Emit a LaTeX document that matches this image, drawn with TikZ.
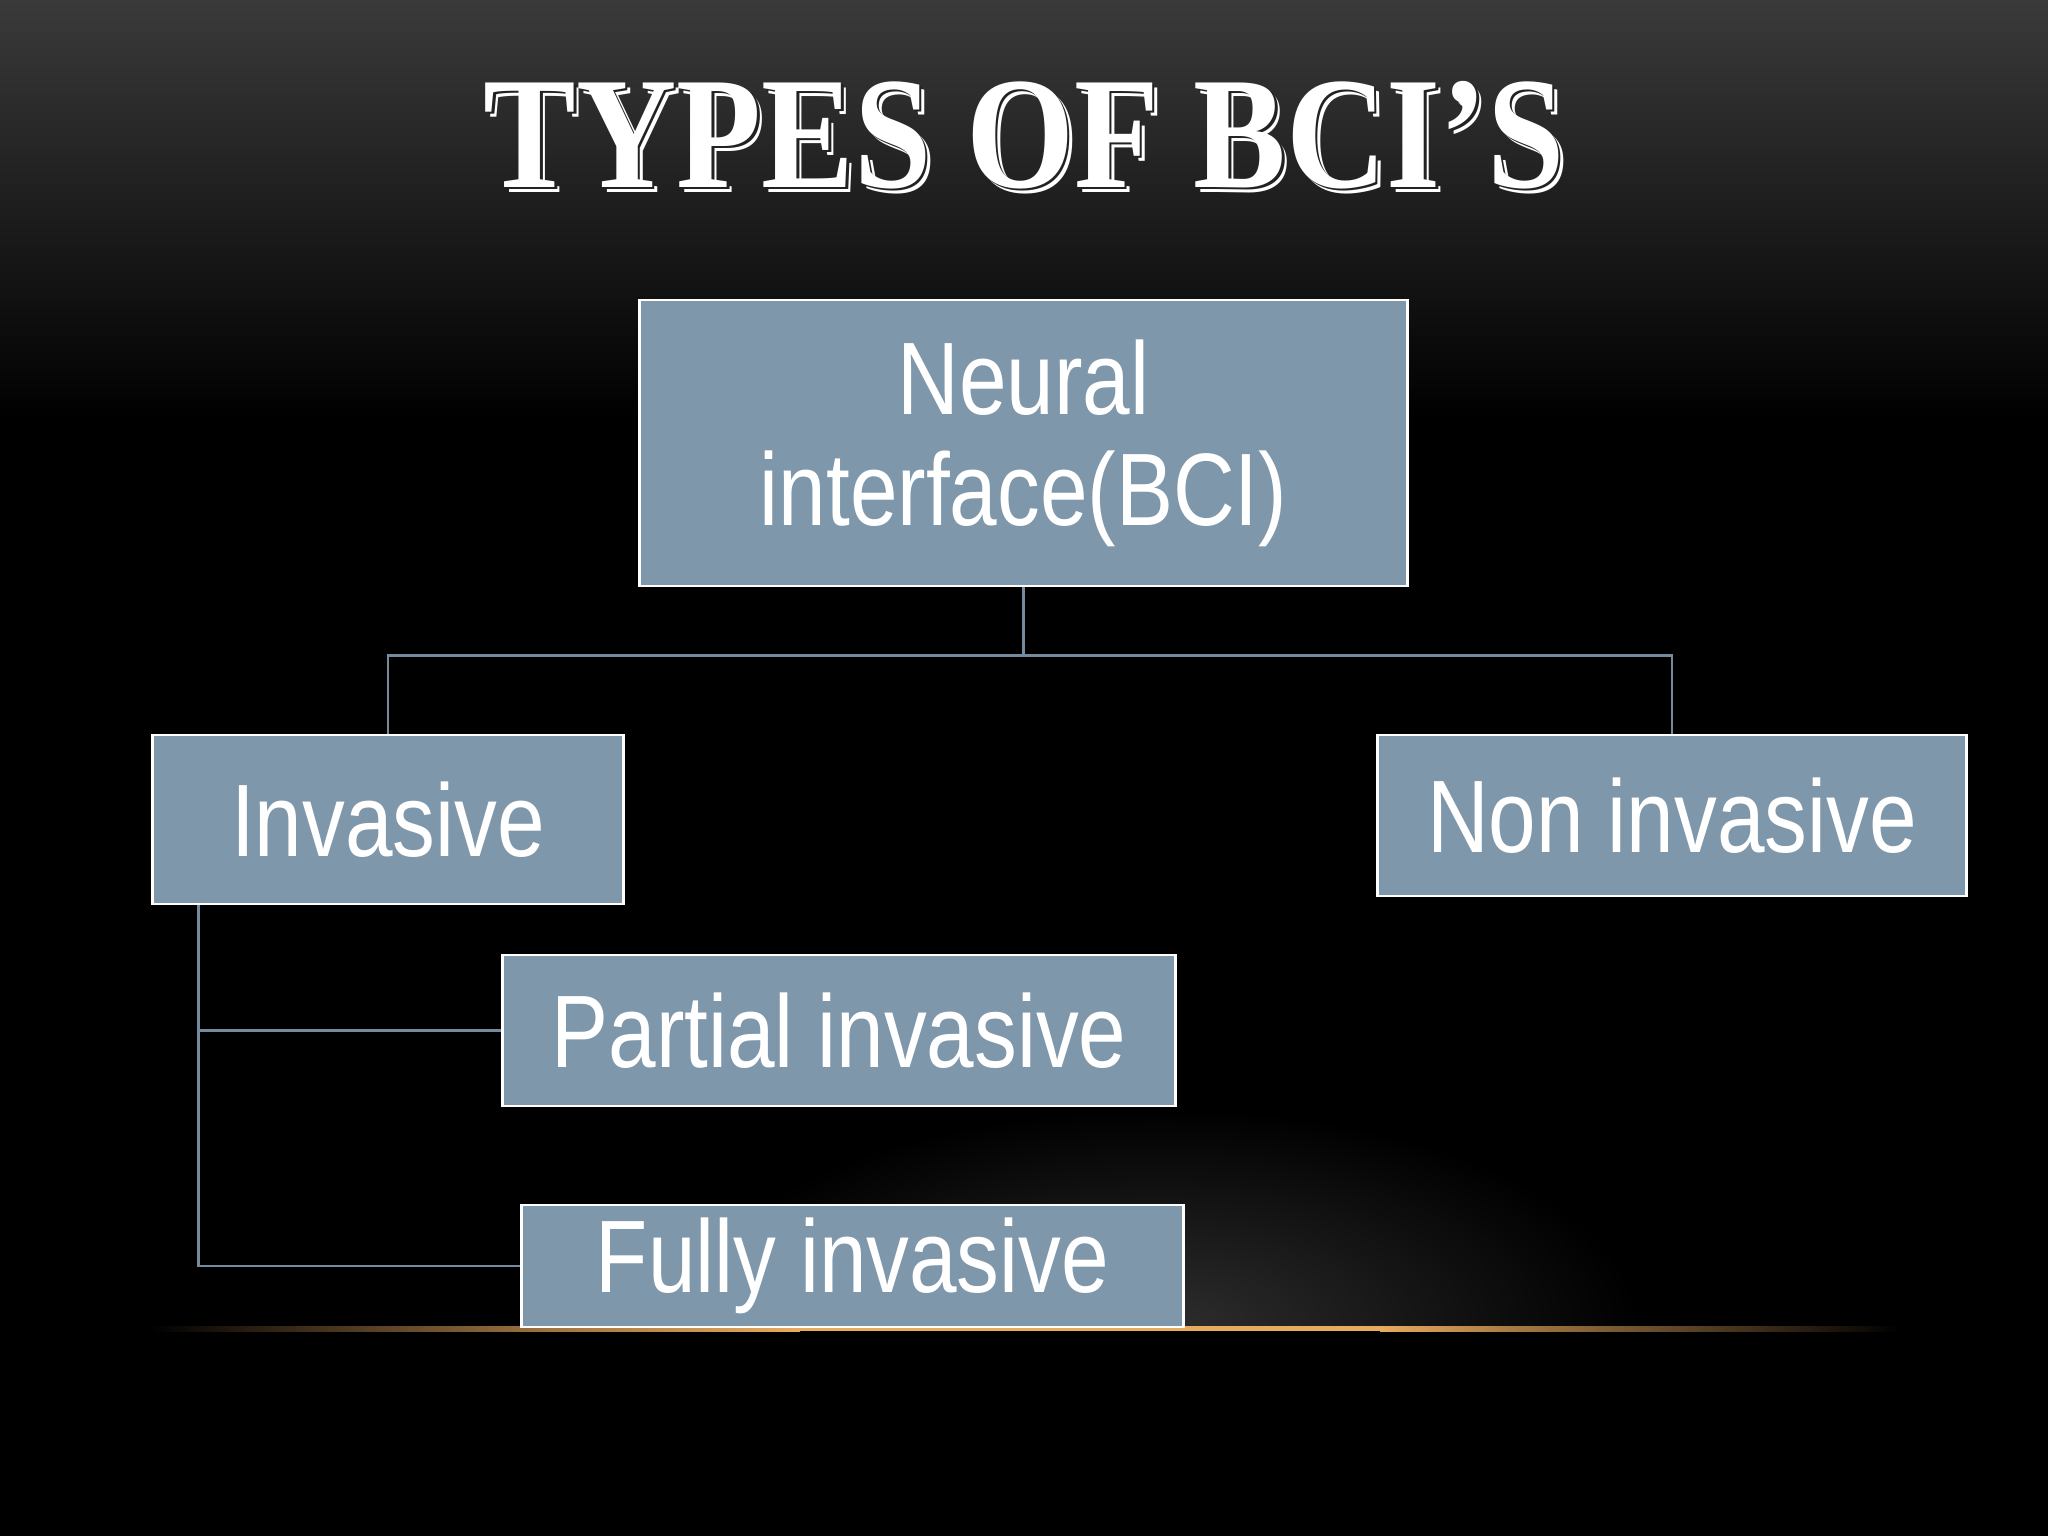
\documentclass[tikz,border=0pt]{standalone}
\usepackage{fontspec}
\newfontfamily\boxfont{Liberation Sans}[FakeStretch=0.83]
\newfontfamily\titlefont{Liberation Serif}[FakeStretch=0.87]
\definecolor{boxblue}{RGB}{127,151,171}
\definecolor{linkblue}{RGB}{118,138,158}
\definecolor{glow}{RGB}{232,170,95}
\definecolor{topgray}{RGB}{58,58,58}
\definecolor{titlegap}{RGB}{34,34,34}
\begin{document}
\begin{tikzpicture}[x=0.01cm, y=-0.01cm, align=center,
  bci/.style={draw=white, line width=0.8pt, fill=boxblue, text=white,
    font=\boxfont\fontsize{29.3}{31.5}\selectfont, inner sep=0pt},
  link/.style={draw=linkblue, line width=0.6pt},
  titletext/.style={anchor=base, font=\titlefont\bfseries\fontsize{45.4}{50}\selectfont}]
% background
\fill[black] (0,0) rectangle (2048,1536);
\shade[top color=topgray, bottom color=black] (0,0) rectangle (2048,420);
\begin{scope}
\clip (0,0) rectangle (2048,1328);
\shade[inner color=black!82!white, outer color=black] (1160,1328) ellipse (4.8cm and 2.2cm);
\end{scope}
% glowing floor line
\shade[left color=black, right color=glow!70!black] (150,1326) rectangle (560,1331);
\shade[left color=glow!70!black, right color=glow] (560,1326) rectangle (800,1331);
\fill[glow] (800,1326) rectangle (1380,1331);
\shade[left color=glow, right color=glow!70!black] (1380,1326) rectangle (1520,1331);
\shade[left color=glow!70!black, right color=black] (1520,1326) rectangle (1900,1331);
% title
\node[titletext, text=white] at (1029,192) {TYPES OF BCI’S};
\node[titletext, text=titlegap] at (1026.5,189.5) {TYPES OF BCI’S};
\node[titletext, text=white] (title) at (1024,187) {TYPES OF BCI’S};
% boxes
\node[bci, minimum width=7.67cm, minimum height=2.86cm] (neural) at (1023.5,443) {Neural\\interface(BCI)};
\node[bci, minimum width=4.70cm, minimum height=1.69cm] (invasive) at (388,819.5) {Invasive};
\node[bci, minimum width=5.88cm, minimum height=1.61cm] (noninvasive) at (1672,815.5) {Non invasive};
\node[bci, minimum width=6.72cm, minimum height=1.51cm] (partial) at (839,1030.5) {Partial invasive};
\node[bci, minimum width=6.61cm, minimum height=1.22cm] (fully) at (852.5,1266) {Fully invasive};
% links
\draw[link] (neural.south) -- ++(0,68) coordinate (fork) -| (invasive.north);
\draw[link] (fork) -| (noninvasive.north);
\draw[link] ([xshift=0.47cm]invasive.south west) |- (partial.west);
\draw[link] ([xshift=0.47cm]invasive.south west) |- (fully.west);
\end{tikzpicture}
\end{document}
